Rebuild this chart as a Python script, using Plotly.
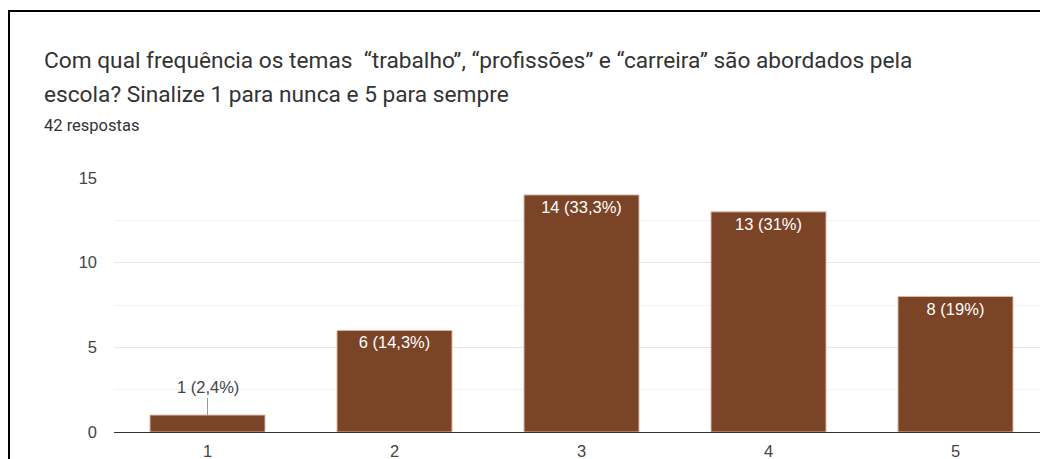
import plotly.graph_objects as go

categories = ["1", "2", "3", "4", "5"]
counts = [1, 6, 14, 13, 8]
total = 42
title_line1 = "Com qual frequência os temas  “trabalho”, “profissões” e “carreira” são abordados pela"
title_line2 = "escola? Sinalize 1 para nunca e 5 para sempre"
subtitle = f"{total} respostas"
ytick_vals = [0, 5, 10, 15]


def fmt(v):
    p = round(v / total * 100, 1)
    s = f"{p:.1f}".replace(".", ",")
    if s.endswith(",0"):
        s = s[:-2]
    return f"{v} ({s}%)"


labels = [fmt(v) for v in counts]
positions = ["none" if v < 3 else "inside" for v in counts]

W, H = 1040, 459
ml, mt, mb = 114, 178, 27
pw = W - ml
ph = H - mt - mb
cat_w = 187.0
ARIAL = "Arial, Liberation Sans, sans-serif"
ROBOTO = "Roboto, Arial, sans-serif"

def px_x(px):
    return (px - ml) / pw

def px_y(py):
    return (H - mb - py) / ph

fig = go.Figure()
fig.add_trace(go.Bar(
    x=[1, 2, 3, 4, 5],
    y=counts,
    text=labels,
    textposition=positions,
    insidetextanchor="end",
    textfont=dict(color="white", size=16.5, family=ARIAL),
    marker=dict(color="#7B4427", line=dict(color="#d9b8a8", width=1)),
    width=0.615,
    hoverinfo="skip",
    cliponaxis=False,
))

annotations = [
    dict(text=title_line1, x=px_x(42), y=px_y(61), xref="paper", yref="paper",
         xanchor="left", yanchor="middle", showarrow=False,
         font=dict(size=22.7, color="#333333", family=ROBOTO)),
    dict(text=title_line2, x=px_x(42), y=px_y(95), xref="paper", yref="paper",
         xanchor="left", yanchor="middle", showarrow=False,
         font=dict(size=22.7, color="#333333", family=ROBOTO)),
    dict(text=subtitle, x=px_x(42), y=px_y(126), xref="paper", yref="paper",
         xanchor="left", yanchor="middle", showarrow=False,
         font=dict(size=16.5, color="#333333", family=ROBOTO)),
]
for i, v in enumerate(counts):
    if positions[i] == "none":
        annotations.append(dict(
            text=labels[i], x=i + 1, y=v, xref="x", yref="y",
            showarrow=True, arrowhead=0, arrowwidth=1, arrowcolor="#999999",
            ax=0, ay=-17, yanchor="bottom",
            font=dict(size=16.5, color="#444444", family=ARIAL),
        ))

x_max = 0.5 + pw / cat_w

fig.update_layout(
    width=W, height=H,
    margin=dict(l=ml, r=0, t=mt, b=mb, pad=0),
    paper_bgcolor="white", plot_bgcolor="white",
    showlegend=False,
    font=dict(family=ARIAL, color="#444444", size=16.5),
    annotations=annotations,
    shapes=[dict(type="rect", xref="paper", yref="paper",
                 x0=px_x(9), x1=px_x(1100), y0=px_y(11), y1=px_y(520),
                 line=dict(color="black", width=2), fillcolor="rgba(0,0,0,0)",
                 layer="above")],
    xaxis=dict(
        range=[0.5, x_max],
        tickmode="array", tickvals=[1, 2, 3, 4, 5], ticktext=categories,
        showgrid=False, zeroline=False,
        showline=False,
        ticks="", tickfont=dict(size=16.5, color="#444444", family=ARIAL),
        ticklabelstandoff=7,
        fixedrange=True,
    ),
    yaxis=dict(
        range=[0, 15],
        tickmode="array", tickvals=ytick_vals,
        showgrid=True, gridcolor="#e6e6e6", gridwidth=1,
        minor=dict(tickmode="array", tickvals=[2.5, 7.5, 12.5], showgrid=True, gridcolor="#f2f2f2", gridwidth=1),
        zeroline=True, zerolinecolor="#333333", zerolinewidth=1,
        showline=False, ticks="",
        tickfont=dict(size=16.5, color="#444444", family=ARIAL),
        ticklabelstandoff=16,
        fixedrange=True,
    ),
)

fig.write_html("out.html", config={"displayModeBar": False},
               post_script="document.body.style.margin='0';document.body.style.overflow='hidden';")
